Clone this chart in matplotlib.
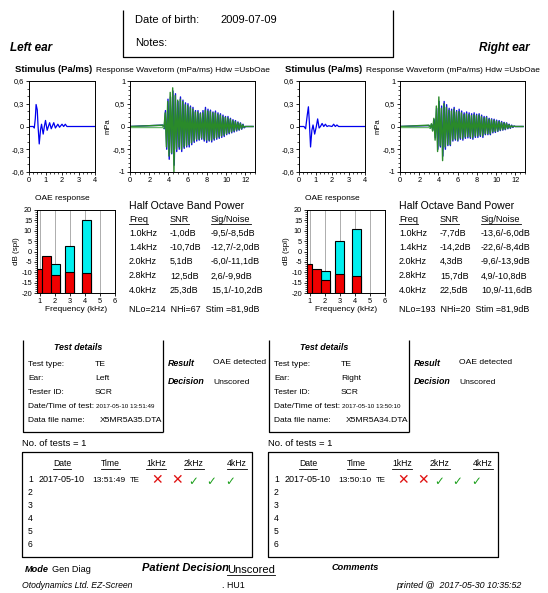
import matplotlib
matplotlib.use('Agg')
import matplotlib.pyplot as plt
import numpy as np

plt.rcParams['font.family'] = ['Liberation Sans', 'DejaVu Sans']
plt.rcParams['axes.unicode_minus'] = False

W, H = 548, 593

# ---- data ----
band_labels = ['1.0kHz', '1.4kHz', '2.0kHz', '2.8kHz', '4.0kHz']
band_left_edge = [0.82, 1.15, 1.75, 2.7, 3.8]
band_width = [0.33, 0.6, 0.6, 0.6, 0.6]

left_snr = [-1.0, -10.7, 5.1, 12.5, 25.3]
left_sig = [-9.5, -12.7, -6.0, 2.6, 15.1]
left_noise = [-8.5, -2.0, -11.1, -9.9, -10.2]
right_snr = [-7.7, -14.2, 4.3, 15.7, 22.5]
right_sig = [-13.6, -22.6, -9.6, 4.9, 10.9]
right_noise = [-6.0, -8.4, -13.9, -10.8, -11.6]

left_summary = 'NLo=214  NHi=67  Stim =81,9dB'
right_summary = 'NLo=193  NHi=20  Stim =81,9dB'

# stimulus traces (ms, Pa/ms)
left_stim_t = [0, 0.25, 0.32, 0.38, 0.43, 0.5, 0.55, 0.62, 0.7, 0.76, 0.86, 0.93, 1.0, 1.1,
               1.25, 1.35, 1.5, 1.6, 1.75, 1.85, 2.0, 2.1, 2.2, 2.3, 4.0]
left_stim_y = [0, 0, -0.02, 0.1, 0.29, 0.22, 0.0, -0.23, -0.04, 0.03, -0.1, 0.0, 0.08, -0.05,
               0.05, -0.03, 0.05, -0.02, 0.03, -0.01, 0.03, 0.0, 0.03, 0.0, 0.0]
right_stim_t = [0, 0.3, 0.4, 0.5, 0.57, 0.63, 0.7, 0.78, 0.85, 0.95, 1.05, 1.13, 1.22, 1.3,
                1.4, 1.5, 1.6, 1.7, 1.8, 2.0, 2.1, 2.2, 2.3, 2.4, 4.0]
right_stim_y = [0, 0, -0.03, 0.15, 0.26, 0.05, -0.27, -0.05, 0.02, -0.1, 0.0, 0.1, -0.02, 0.0,
                0.04, 0.0, 0.03, 0.0, 0.01, 0.0, 0.03, 0.0, 0.02, 0.0, 0.0]

# response traces: alternating peaks sampled every 0.13 ms from onset (mPa)
resp_dt = 0.13
left_onset = 3.4
left_blue = [0.03, -0.05, 0.35, -0.50, 0.60, -0.72, 0.65, -0.60, 0.78, -0.85, 0.72, -0.55,
             0.55, -0.50, 0.65, -0.55, 0.58, -0.48, 0.52, -0.45, 0.50, -0.45, 0.45, -0.40,
             0.42, -0.35, 0.35, -0.32, 0.35, -0.30, 0.30, -0.28, 0.35, -0.32, 0.42, -0.35,
             0.38, -0.32, 0.36, -0.34, 0.32, -0.30, 0.34, -0.28, 0.30, -0.26, 0.28, -0.24,
             0.25, -0.22, 0.22, -0.18, 0.22, -0.16, 0.18, -0.14, 0.15, -0.12, 0.13, -0.10,
             0.10, -0.08, 0.08, -0.06, 0.05, -0.03, 0.0]
left_green = [0.03, -0.04, 0.30, -0.45, 0.55, -0.65, 0.75, -0.58, 0.85, -1.0, 0.68, -0.50,
              0.58, -0.45, 0.60, -0.50, 0.55, -0.45, 0.48, -0.42, 0.46, -0.40, 0.42, -0.36,
              0.38, -0.32, 0.32, -0.28, 0.32, -0.28, 0.28, -0.25, 0.30, -0.28, 0.36, -0.30,
              0.34, -0.30, 0.33, -0.30, 0.30, -0.27, 0.30, -0.25, 0.27, -0.23, 0.25, -0.21,
              0.22, -0.19, 0.20, -0.16, 0.19, -0.14, 0.16, -0.12, 0.13, -0.10, 0.11, -0.08,
              0.09, -0.07, 0.07, -0.05, 0.04, -0.02, 0.0]
right_onset = 3.0
right_blue = [0.02, -0.03, 0.05, -0.08, 0.15, -0.25, 0.40, -0.50, 0.55, -0.45, 0.45, -0.65,
              0.55, -0.50, 0.48, -0.42, 0.40, -0.42, 0.38, -0.32, 0.42, -0.30, 0.35, -0.32,
              0.38, -0.28, 0.34, -0.30, 0.30, -0.26, 0.32, -0.25, 0.30, -0.26, 0.28, -0.28,
              0.30, -0.24, 0.27, -0.24, 0.28, -0.22, 0.25, -0.24, 0.22, -0.18, 0.22, -0.18,
              0.18, -0.18, 0.17, -0.14, 0.16, -0.13, 0.14, -0.11, 0.13, -0.09, 0.11, -0.08,
              0.09, -0.07, 0.08, -0.05, 0.05, -0.04, 0.03, -0.02, 0.01, 0.0]
right_green = [0.03, -0.04, 0.06, -0.10, 0.18, -0.30, 0.45, -0.55, 0.65, -0.42, 0.40, -0.75,
               0.50, -0.45, 0.42, -0.40, 0.36, -0.40, 0.34, -0.30, 0.38, -0.27, 0.32, -0.30,
               0.33, -0.25, 0.30, -0.27, 0.26, -0.23, 0.28, -0.22, 0.26, -0.23, 0.24, -0.25,
               0.26, -0.21, 0.24, -0.21, 0.25, -0.19, 0.22, -0.21, 0.19, -0.16, 0.20, -0.16,
               0.16, -0.16, 0.15, -0.12, 0.14, -0.11, 0.12, -0.10, 0.11, -0.08, 0.09, -0.07,
               0.08, -0.06, 0.07, -0.04, 0.04, -0.03, 0.02, -0.01, 0.01, 0.0]

left_details = [('Test type:', 'TE'), ('Ear:', 'Left'), ('Tester ID:', 'SCR'),
                ('Date/Time of test:', '2017-05-10 13:51:49'), ('Data file name:', 'X5MR5A35.DTA')]
right_details = [('Test type:', 'TE'), ('Ear:', 'Right'), ('Tester ID:', 'SCR'),
                 ('Date/Time of test:', '2017-05-10 13:50:10'), ('Data file name:', 'X5MR5A34.DTA')]
test_headers = ['Date', 'Time', '1kHz', '2kHz', '4kHz']
left_test = ('2017-05-10', '13:51:49', 'TE')
right_test = ('2017-05-10', '13:50:10', 'TE')
band_pass = [False, False, True, True, True]

fig = plt.figure(figsize=(W / 100, H / 100), dpi=100)
bg = fig.add_axes([0, 0, 1, 1])
bg.set_xlim(0, W)
bg.set_ylim(H, 0)
bg.axis('off')


def txt(x, y, s, size=6.4, **kw):
    kw.setdefault('va', 'center')
    return bg.text(x, y, s, fontsize=size, **kw)


def line(xs, ys, lw=0.9):
    bg.plot(xs, ys, color='black', lw=lw, solid_capstyle='butt')


def px_axes(l, t, r, b):
    return fig.add_axes([l / W, 1 - b / H, (r - l) / W, (b - t) / H])


def comma(v):
    return f'{v:.1f}'.replace('.', ',')


underlined = []

# header box
line([123, 123, 393, 393], [10, 57, 57, 10])
txt(135, 20, 'Date of birth:', 8)
txt(220, 20, '2009-07-09', 8)
txt(135, 43, 'Notes:', 8)
txt(10, 48, 'Left ear', 8.5, weight='bold', style='italic')
txt(530, 48, 'Right ear', 8.5, weight='bold', style='italic', ha='right')


def style_ax(ax):
    ax.tick_params(labelsize=5.3, length=2.5, width=0.6, pad=1)
    ax.tick_params(which='minor', length=1.5, width=0.5)
    for s in ax.spines.values():
        s.set_linewidth(0.7)


def ear(ox, stim_t, stim_y, onset, blue, green, sig, noise, snr, summary, details, test):
    # stimulus
    txt(ox + 15, 70, 'Stimulus (Pa/ms)', 6.8, weight='bold')
    txt(ox + 96, 70, 'Response Waveform (mPa/ms) Hdw =UsbOae', 6.0)
    a = px_axes(ox + 29, 81, ox + 95, 172)
    a.plot(stim_t, stim_y, color='#0000ee', lw=0.9)
    a.set_xlim(0, 4)
    a.set_ylim(-0.6, 0.6)
    a.set_xticks(range(5))
    a.set_xticks(np.arange(0, 4.01, 0.25), minor=True)
    a.set_yticks([-0.6, -0.3, 0, 0.3, 0.6])
    a.set_yticklabels(['-0,6', '-0,3', '0', '0,3', '0,6'])
    a.set_yticks(np.arange(-0.6, 0.61, 0.1), minor=True)
    style_ax(a)

    # response
    r = px_axes(ox + 130, 81, ox + 255, 172)
    n = len(blue)
    tt = onset + resp_dt * np.arange(n)
    r.plot(np.r_[0, tt + 0.03, 12.8], np.r_[0, blue, 0], color='#1010e0', lw=1.0)
    r.plot(np.r_[0, tt, 12.8], np.r_[0, green, 0], color='#2a8a2a', lw=1.0)
    r.plot([0, onset], [0, 0], color='#6ab86a', lw=1.0)
    r.set_xlim(0, 13)
    r.set_ylim(-1, 1)
    r.set_xticks(range(0, 13, 2))
    r.set_xticks(np.arange(0, 13.01, 0.5), minor=True)
    r.set_yticks([-1, -0.5, 0, 0.5, 1])
    r.set_yticklabels(['-1', '-0,5', '0', '0,5', '1'])
    r.set_yticks(np.arange(-1, 1.01, 0.1), minor=True)
    r.set_ylabel('mPa', fontsize=5.5, labelpad=1)
    style_ax(r)

    # OAE response bars
    txt(ox + 62, 199, 'OAE response', 6, ha='center')
    b = px_axes(ox + 37, 210, ox + 115, 293)
    bot = -20
    b.bar(band_left_edge, [s - bot for s in sig], width=band_width, bottom=bot, align='edge',
          color='#00f0f0', edgecolor='black', lw=0.8, zorder=3)
    b.bar(band_left_edge, [v - bot for v in noise], width=band_width, bottom=bot, align='edge',
          color='#f00000', edgecolor='black', lw=0.8, zorder=4)
    b.set_xlim(0.82, 6)
    b.set_ylim(-20, 20)
    b.set_xticks(range(1, 7))
    b.set_yticks(range(-20, 21, 5))
    b.set_yticks(range(-20, 21, 1), minor=True)
    b.grid(axis='x', color='#a0a0a0', lw=0.6, zorder=0)
    b.set_ylabel('dB (spl)', fontsize=5.8, labelpad=1)
    b.set_xlabel('Frequency (kHz)', fontsize=6, labelpad=1)
    style_ax(b)

    # half octave table
    hx = ox + 129
    txt(hx, 206, 'Half Octave Band Power', 7.6)
    for dx, h in [(0, 'Freq'), (41, 'SNR'), (82, 'Sig/Noise')]:
        underlined.append(txt(hx + dx, 219, h, 6.6))
    for i, lab in enumerate(band_labels):
        y = 233 + 14.3 * i
        txt(hx, y, lab, 6.5)
        txt(hx + 41, y, comma(snr[i]) + 'dB', 6.5)
        txt(hx + 82, y, f'{comma(sig[i])}/{comma(noise[i])}dB', 6.5)
    txt(hx, 309, summary, 6.4)

    # test details box
    lx = ox + 23 if ox == 0 else ox - 1
    line([lx, lx, lx + 140], [340, 432, 432])
    line([lx + 140, lx + 140], [340, 432])
    txt(lx + 55, 347, 'Test details', 6.4, weight='bold', style='italic', ha='center')
    for i, (k, v) in enumerate(details):
        y = 364 + 14 * i
        txt(lx + 5, y, k, 6.0)
        if i == 3:
            txt(lx + 73, y, v, 4.5)
        else:
            txt(lx + (77 if i == 4 else 72), y, v, 6.1)
    txt(lx + 145, 363, 'Result', 6.4, weight='bold', style='italic')
    txt(lx + 190, 363, 'OAE detected', 6.1)
    txt(lx + 145, 382, 'Decision', 6.4, weight='bold', style='italic')
    txt(lx + 190, 382, 'Unscored', 6.1)

    # test list
    txt(lx - 1, 443, 'No. of tests = 1', 6.8)
    line([lx - 1, lx + 229, lx + 229, lx - 1, lx - 1], [452, 452, 557, 557, 452])
    hxs = [39, 87, 133, 171, 214]
    for dx, h in zip(hxs, test_headers):
        underlined.append(txt(lx + dx, 464, h, 6.2, ha='center'))
    for i in range(6):
        txt(lx + 5, 480 + 12.9 * i, str(i + 1), 6.2)
    txt(lx + 16, 480, test[0], 6.5)
    txt(lx + 69, 480, test[1], 6.1)
    txt(lx + 107, 480, test[2], 5.6)
    for i, (dx, ok) in enumerate(zip([134, 154, 170, 188, 207], band_pass)):
        x = lx + dx
        if ok:
            txt(x, 481, '\u2713', 8.5, ha='center', color='#1ea01e', family='DejaVu Sans', weight='bold')
        else:
            txt(x, 480, '\u2715', 10, ha='center', color='#e01010', family='DejaVu Sans')


ear(0, left_stim_t, left_stim_y, left_onset, left_blue, left_green, left_sig, left_noise,
    left_snr, left_summary, left_details, left_test)
ear(270, right_stim_t, right_stim_y, right_onset, right_blue, right_green, right_sig, right_noise,
    right_snr, right_summary, right_details, right_test)

# bottom lines
txt(25, 570, 'Mode', 6.6, weight='bold', style='italic')
txt(52, 570, 'Gen Diag', 6.6)
txt(142, 568, 'Patient Decision', 8, weight='bold', style='italic')
underlined.append(txt(227, 570, 'Unscored', 8))
txt(332, 567, 'Comments', 6.6, weight='bold', style='italic')
txt(22, 586, 'Otodynamics Ltd. EZ-Screen', 6.2, style='italic')
txt(222, 586, '. HU1', 6.4)
txt(521, 586, 'printed @  2017-05-30 10:35:52', 6.4, style='italic', ha='right')

# underline the headings
fig.canvas.draw()
inv = bg.transData.inverted()
for t in underlined:
    bb = t.get_window_extent()
    (x0, y0), (x1, y1) = inv.transform([[bb.x0, bb.y0], [bb.x1, bb.y1]])
    bg.plot([x0, x1], [y0 + 0.3, y0 + 0.3], color='black', lw=0.6)

fig.savefig('out.png', dpi=100)
